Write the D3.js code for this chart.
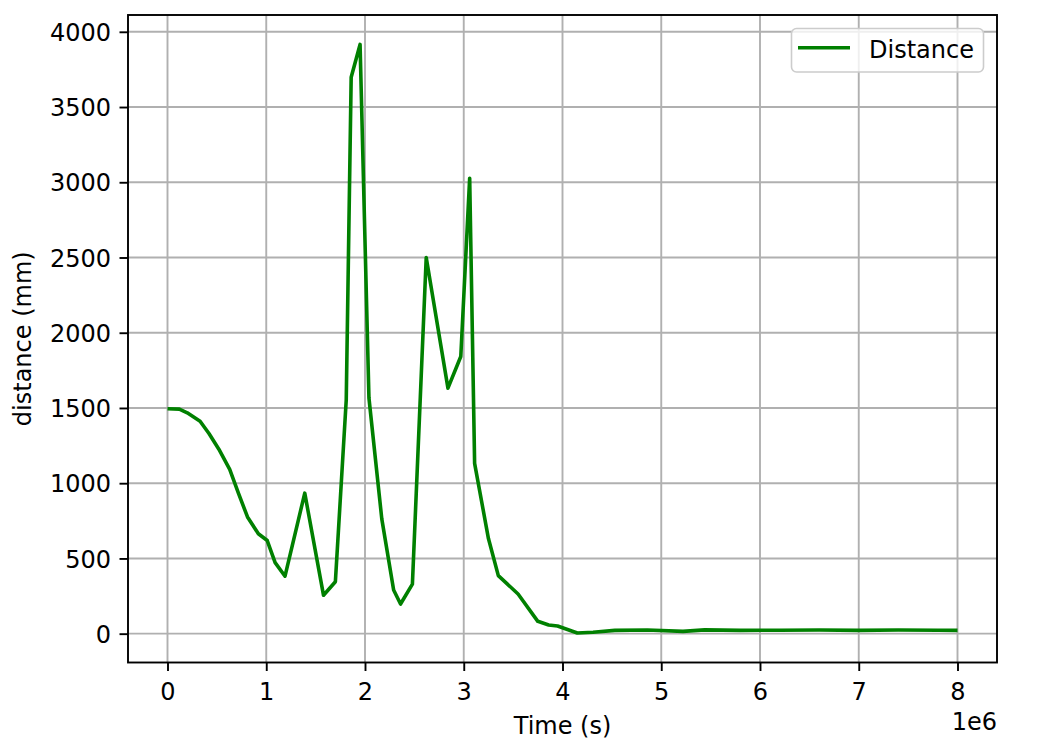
<!DOCTYPE html>
<html>
<head>
<meta charset="utf-8">
<script src="https://cdn.jsdelivr.net/npm/d3@7/dist/d3.min.js"></script>
<style>
  html, body { margin: 0; padding: 0; background: #fff; }
  text { font-family: "DejaVu Sans", sans-serif; fill: #000; }
</style>
</head>
<body>
<svg id="chart" width="1048" height="755"></svg>
<script>
// time in units of 1e6 s
const timeValues = [0, 0.12, 0.2, 0.33, 0.42, 0.52, 0.63, 0.72, 0.81, 0.92, 1.01, 1.09, 1.19, 1.39, 1.58, 1.70,
  1.81, 1.86, 1.95, 2.04, 2.17, 2.29, 2.36, 2.48, 2.62, 2.84, 2.97, 3.06, 3.11, 3.25, 3.35, 3.55,
  3.75, 3.86, 3.95, 4.15, 4.31, 4.53, 4.86, 5.22, 5.44, 5.8, 6.2, 6.6, 7.0, 7.4, 7.8, 8.0];
const distanceValues = [1495, 1492, 1468, 1412, 1330, 1226, 1092, 930, 776, 664, 619, 472, 382, 934, 255, 345,
  1553, 3698, 3916, 1566, 763, 290, 197, 329, 2500, 1632, 1842, 3027, 1132, 632, 386, 264,
  82, 58, 51, 4, 9, 22, 24, 15, 25, 22, 23, 24, 22, 24, 23, 22];
const xTicks = [0, 1, 2, 3, 4, 5, 6, 7, 8];
const yTicks = [0, 500, 1000, 1500, 2000, 2500, 3000, 3500, 4000];
const seriesName = "Distance";
const xLabel = "Time (s)";
const yLabel = "distance (mm)";
const offsetLabel = "1e6";

const data = timeValues.map((t, i) => ({ t: t * 1e6, v: distanceValues[i] }));

const svg = d3.select("#chart");
const L = 128, R = 997, T = 15, B = 662.5;
const FS = 24;

const xExt = d3.extent(data, d => d.t), xPad = 0.05 * (xExt[1] - xExt[0]);
const yExt = d3.extent(data, d => d.v), yPad = 0.05 * (yExt[1] - yExt[0]);
const x = d3.scaleLinear().domain([xExt[0] - xPad, xExt[1] + xPad]).range([L, R]);
const y = d3.scaleLinear().domain([yExt[0] - yPad, yExt[1] + yPad]).range([B, T]);

svg.append("rect").attr("width", 1048).attr("height", 755).attr("fill", "#fff");

// grid
const grid = svg.append("g");
grid.selectAll("line.gx").data(xTicks).enter().append("line")
  .attr("x1", d => x(d * 1e6)).attr("x2", d => x(d * 1e6))
  .attr("y1", T).attr("y2", B)
  .attr("stroke", "#b0b0b0").attr("stroke-width", 1.9);
grid.selectAll("line.gy").data(yTicks).enter().append("line")
  .attr("y1", d => y(d)).attr("y2", d => y(d))
  .attr("x1", L).attr("x2", R)
  .attr("stroke", "#b0b0b0").attr("stroke-width", 1.9);

// line
const line = d3.line().x(d => x(d.t)).y(d => y(d.v));
svg.append("path").datum(data).attr("d", line)
  .attr("fill", "none").attr("stroke", "#008000").attr("stroke-width", 3.6)
  .attr("stroke-linejoin", "round").attr("stroke-linecap", "butt");

// axes
const xAxis = d3.axisBottom(x).tickValues(xTicks.map(d => d * 1e6))
  .tickFormat(d => String(Math.round(d / 1e6))).tickSize(8.5).tickPadding(8);
const yAxis = d3.axisLeft(y).tickValues(yTicks).tickFormat(d => String(d)).tickSize(8.5).tickPadding(8);

const gx = svg.append("g").attr("transform", `translate(0,${B})`).call(xAxis);
const gy = svg.append("g").attr("transform", `translate(${L},0)`).call(yAxis);
[gx, gy].forEach(g => {
  g.select(".domain").remove();
  g.selectAll(".tick line").attr("stroke", "#000").attr("stroke-width", 1.9);
  g.selectAll(".tick text").attr("font-size", FS).attr("font-family", "DejaVu Sans").attr("fill", "#000");
});
gx.selectAll(".tick text").attr("dy", null).attr("y", 37);
gy.selectAll(".tick text").attr("dy", "0.36em").attr("x", -17);

// spines
svg.append("rect").attr("x", L).attr("y", T).attr("width", R - L).attr("height", B - T)
  .attr("fill", "none").attr("stroke", "#000").attr("stroke-width", 1.9);

// labels
svg.append("text").attr("x", (L + R) / 2).attr("y", 734).attr("text-anchor", "middle")
  .attr("font-size", FS).text(xLabel);
svg.append("text").attr("transform", `translate(31,${(T + B) / 2}) rotate(-90)`)
  .attr("text-anchor", "middle").attr("font-size", FS).text(yLabel);
svg.append("text").attr("x", R).attr("y", 730).attr("text-anchor", "end")
  .attr("font-size", FS).text(offsetLabel);

// legend
const lg = svg.append("g");
lg.append("rect").attr("x", 791.5).attr("y", 28.5).attr("width", 192).attr("height", 43.5)
  .attr("rx", 5).attr("fill", "#fff").attr("fill-opacity", 0.8)
  .attr("stroke", "#cccccc").attr("stroke-width", 1.6);
lg.append("line").attr("x1", 798).attr("x2", 850).attr("y1", 47.7).attr("y2", 47.7)
  .attr("stroke", "#008000").attr("stroke-width", 3.6);
lg.append("text").attr("x", 869).attr("y", 58.3).attr("font-size", FS).text(seriesName);
</script>
</body>
</html>
